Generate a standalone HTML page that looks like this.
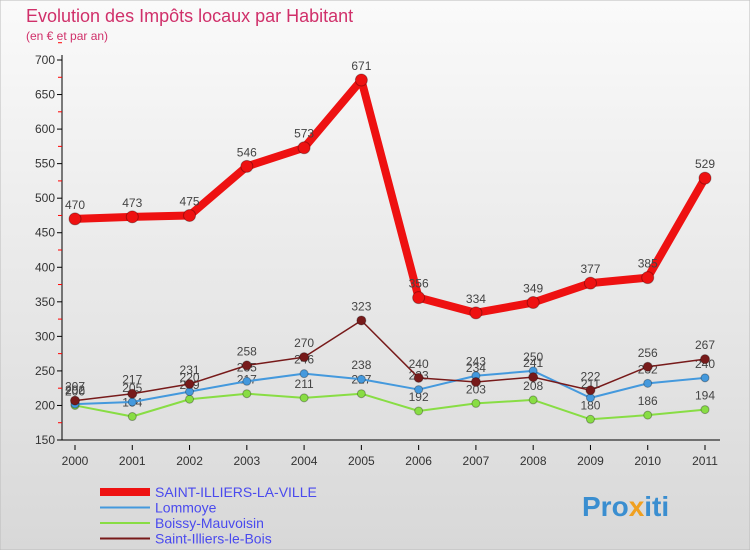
<!DOCTYPE html>
<html><head><meta charset="utf-8"><style>
body{margin:0;width:750px;height:550px;overflow:hidden;font-family:"Liberation Sans",sans-serif}
</style></head><body>
<svg width="750" height="550" xmlns="http://www.w3.org/2000/svg">
<defs><linearGradient id="bg" x1="0" y1="0" x2="0" y2="1"><stop offset="0" stop-color="#fafafa"/><stop offset="1" stop-color="#d8d8d8"/></linearGradient></defs>
<rect width="750" height="550" fill="url(#bg)" stroke="#bbb"/>
<text x="26" y="22" font-size="18" fill="#d0306a">Evolution des Impôts locaux par Habitant</text>
<text x="26" y="40" font-size="12" fill="#d0306a">(en € et par an)</text>
<g id="axes"></g><g id="series"></g><g id="legend"></g>
<text x="582" y="516" font-size="28" font-weight="bold" fill="#3a8ed0">Pro<tspan fill="#f0a020">x</tspan>iti</text>
</svg>
<script>
const years=[2000,2001,2002,2003,2004,2005,2006,2007,2008,2009,2010,2011];
const yTicks=[150,200,250,300,350,400,450,500,550,600,650,700];
const saint=[470,473,475,546,573,671,356,334,349,377,385,529];
const lommoye=[202,205,220,235,246,238,223,243,250,211,232,240];
const boissy=[200,184,209,217,211,217,192,203,208,180,186,194];
const bois=[207,217,231,258,270,323,240,234,241,222,256,267];
const NS="http://www.w3.org/2000/svg";
const X=i=>75+i*(630/11);
const Y=v=>440-(v-150)*(380/550);
function mk(t,a,p){const e=document.createElementNS(NS,t);for(const k in a)e.setAttribute(k,a[k]);p.appendChild(e);return e;}
const ax=document.getElementById('axes');
const yl=mk('line',{x1:62,y1:55,x2:62,y2:440,stroke:'#000'},ax);


const xl=mk('line',{x1:62,y1:440,x2:720,y2:440,stroke:'#000'},ax);


yTicks.forEach(v=>{
  mk('line',{x1:57,y1:Y(v),x2:62,y2:Y(v),stroke:'#000'},ax);
  mk('line',{x1:58,y1:Y(v+25),x2:62,y2:Y(v+25),stroke:'#f00'},ax);
  const t=mk('text',{x:55,y:Y(v)+4,'font-size':12,'text-anchor':'end',fill:'#333'},ax);t.textContent=v;
  
  
});
years.forEach((y,i)=>{
  mk('line',{x1:X(i),y1:445,x2:X(i),y2:450,stroke:'#000'},ax);
  const t=mk('text',{x:X(i),y:465,'font-size':12,'text-anchor':'middle',fill:'#333'},ax);t.textContent=y;
  
  
});
const sg=document.getElementById('series');
function draw(data,color,w,r,name){
  const g=mk('g',{},sg);
  
  
  mk('polyline',{points:data.map((v,i)=>X(i)+','+Y(v)).join(' '),fill:'none',stroke:color,'stroke-width':w,'stroke-linejoin':'round'},g);
  data.forEach((v,i)=>{
    const c=mk('circle',{cx:X(i),cy:Y(v),r:r,fill:color,stroke:'rgba(0,0,0,0.3)'},g);
    
    
    const t=mk('text',{x:X(i),y:Y(v)-10,'font-size':12,'text-anchor':'middle',fill:'#444'},g);t.textContent=v;
  });
}
draw(boissy,'#88dd44',2,4,'series-boissy');
draw(lommoye,'#4499dd',2,4,'series-lommoye');
draw(bois,'#771a1a',1.5,4.5,'series-saint-illiers-le-bois');
draw(saint,'#ee1111',8,6,'series-saint-illiers-la-ville');
const lg=document.getElementById('legend');
const items=[['SAINT-ILLIERS-LA-VILLE','#ee1111',8],['Lommoye','#4499dd',2],['Boissy-Mauvoisin','#88dd44',2],['Saint-Illiers-le-Bois','#771a1a',2]];
items.forEach((it,k)=>{
  const y=492+k*15.5;
  const g=mk('g',{},lg);
  
  
  mk('line',{x1:100,y1:y,x2:150,y2:y,stroke:it[1],'stroke-width':it[2]},g);
  const t=mk('text',{x:155,y:y+5,'font-size':14,fill:'#4a4aee'},g);t.textContent=it[0];
});
</script>
</body></html>
